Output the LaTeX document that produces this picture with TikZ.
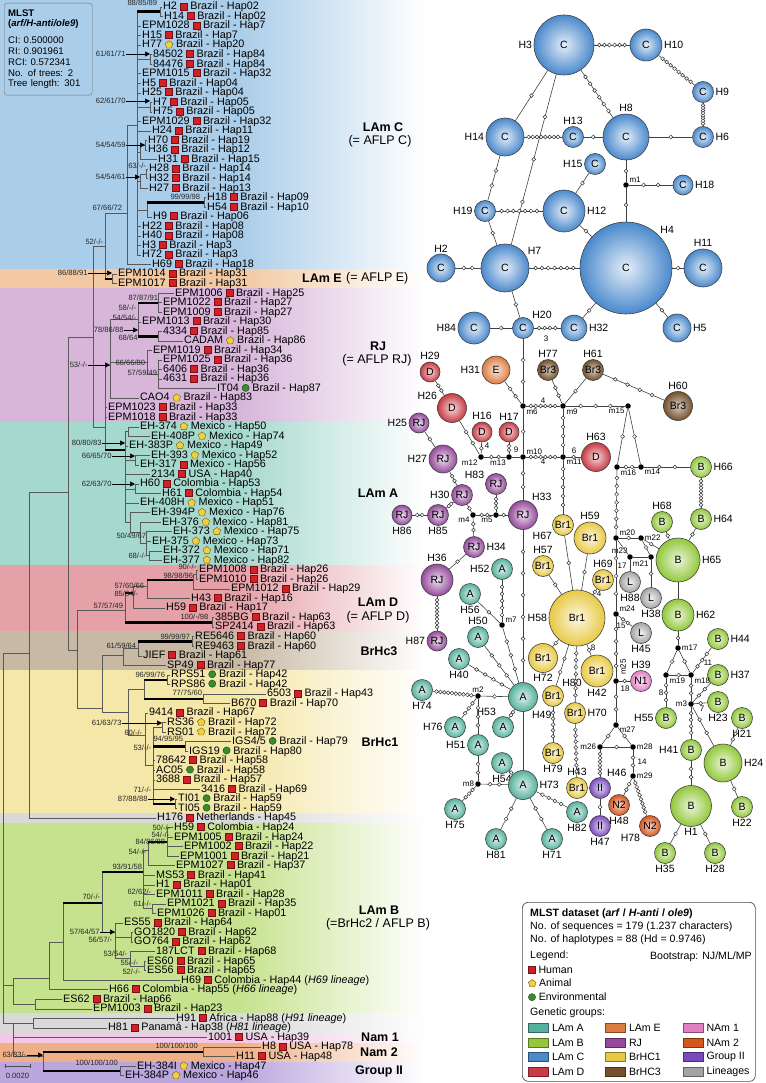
\documentclass[tikz,border=0pt]{standalone}
\usepackage{fontspec}
\setmainfont{Liberation Sans}
\usepackage{tikz}
\usetikzlibrary{positioning, arrows.meta, calc}

% band colours (tree)
\definecolor{bandC}{HTML}{AACDE9}
\definecolor{bandE}{HTML}{F2C9A2}
\definecolor{bandRJ}{HTML}{D7B6DA}
\definecolor{bandA}{HTML}{A6D9CE}
\definecolor{bandD}{HTML}{E5A1A8}
\definecolor{bandHc3}{HTML}{C8B9A4}
\definecolor{bandHc1}{HTML}{F4E7A8}
\definecolor{bandGr}{HTML}{D9D9D9}
\definecolor{bandB}{HTML}{C6E28E}
\definecolor{bandN1}{HTML}{F3C8E6}
\definecolor{bandN2}{HTML}{EFB088}
\definecolor{bandG2}{HTML}{BBA6DE}
% group colours (network)
\definecolor{colA}{HTML}{55B19C}
\definecolor{colB}{HTML}{92C83A}
\definecolor{colC}{HTML}{4A89CC}
\definecolor{colD}{HTML}{C83A44}
\definecolor{colE}{HTML}{DC7C3E}
\definecolor{colRJ}{HTML}{944A9A}
\definecolor{colBr1}{HTML}{E8C944}
\definecolor{colBr3}{HTML}{74512C}
\definecolor{colN1}{HTML}{E07FC2}
\definecolor{colN2}{HTML}{D5561C}
\definecolor{colII}{HTML}{7A4ABD}
\definecolor{colL}{HTML}{A3A3A3}
% source markers
\definecolor{humred}{HTML}{D41F26}
\definecolor{aniyel}{HTML}{F3D03A}
\definecolor{envgrn}{HTML}{3A8A2E}

\newcommand{\hum}{\tikz[baseline=0pt]\draw[fill=humred, draw=humred!55!black, line width=0.4pt] (0pt,0pt) rectangle (7pt,7pt);}
\newcommand{\ani}{\tikz[baseline=-3.24pt]\draw[fill=aniyel, draw=aniyel!45!black, line width=0.4pt] (90:4pt) -- (162:4pt) -- (234:4pt) -- (306:4pt) -- (18:4pt) -- cycle;}
\newcommand{\env}{\tikz[baseline=-3.6pt]\draw[fill=envgrn, draw=envgrn!50!black, line width=0.4pt] (0pt,0pt) circle[radius=3.6pt];}

% network link with k mutation steps
\newcommand{\mutlink}[3]{%
  \draw[netline] (#1) -- (#2) coordinate[pos=0] (ms) coordinate[pos=1] (me);
  \ifnum#3>0
    \foreach \k [evaluate=\k as \pp using \k/(#3+1)] in {1,...,#3}
      {\node[mut] at ($(ms)!\pp!(me)$) {};}
  \fi}

\begin{document}
\begin{tikzpicture}[
        x=1pt, y=-1pt,
        leaf/.style={anchor=west, inner xsep=1.5pt, inner ysep=0pt, font=\fontsize{10.8}{11}\selectfont},
        bs/.style={inner sep=0.3pt, font=\fontsize{7.6}{8}\selectfont, text=black!85},
        bsarrow/.style={-{Triangle[length=5pt, width=5pt]}, line width=0.6pt},
        br/.style={draw=black!65, line width=0.7pt},
        thickbr/.style={draw=black, line width=2.6pt},
        grp/.style={font=\bfseries\fontsize{12.5}{14}\selectfont, inner sep=0pt},
        grpn/.style={font=\fontsize{12.5}{14}\selectfont, inner sep=0pt},
        hap/.style={circle, draw=black!75, line width=0.6pt, inner sep=0pt, font=\fontsize{10.5}{12}\selectfont},
        hapA/.style={hap, inner color=colA!18!white, outer color=colA},
        hapB/.style={hap, inner color=colB!18!white, outer color=colB},
        hapC/.style={hap, inner color=colC!15!white, outer color=colC},
        hapD/.style={hap, inner color=colD!18!white, outer color=colD},
        hapE/.style={hap, inner color=colE!18!white, outer color=colE},
        hapRJ/.style={hap, inner color=colRJ!18!white, outer color=colRJ},
        hapBr1/.style={hap, inner color=colBr1!15!white, outer color=colBr1},
        hapBr3/.style={hap, inner color=colBr3!30!white, outer color=colBr3},
        hapL/.style={hap, inner color=colL!15!white, outer color=colL},
        hapN1/.style={hap, inner color=colN1!18!white, outer color=colN1},
        hapN2/.style={hap, inner color=colN2!25!white, outer color=colN2},
        hapII/.style={hap, inner color=colII!20!white, outer color=colII},
        mut/.style={circle, draw=black!80, fill=white, line width=0.5pt, inner sep=0pt, minimum size=3.8pt},
        med/.style={circle, fill=black, inner sep=0pt, minimum size=5.5pt},
        netline/.style={draw=black!75, line width=0.6pt},
        mlab/.style={font=\fontsize{8}{9}\selectfont, inner sep=0.8pt},
        every label/.style={font=\fontsize{10.5}{12}\selectfont, inner sep=1.5pt},
        legtxt/.style={anchor=west, inner sep=0pt, font=\fontsize{10.6}{12}\selectfont},
        swatch/.style={draw=#1!60!black, fill=#1, line width=0.6pt, minimum width=20pt, minimum height=9pt, inner sep=0pt}
    ]
\useasboundingbox (0,0) rectangle (765,1083);
%
    % Bands behind the tree
    \foreach \ya/\yb/\col in {0/269/bandC, 269/288/bandE, 288/422/bandRJ, 422/565/bandA, 565/631/bandD, 631/670/bandHc3, 670/813/bandHc1, 813/823/bandGr, 823/1013/bandB, 1013/1034/bandGr, 1034/1043/bandN1, 1043/1062/bandN2, 1062/1083/bandG2}
        {\fill[\col] (0,\ya) rectangle (241,\yb);
         \shade[left color=\col, right color=white] (240,\ya) rectangle (425,\yb);}
%
    % Tree statistics
    \node[draw=black!55, rounded corners=3pt, fill=bandC, anchor=north west, text width=80pt, inner xsep=4pt, inner ysep=4pt, minimum height=92pt, align=left, font=\fontsize{9.6}{10.8}\selectfont] (mlst) at (4,3)
        {\textbf{MLST}\\\textbf{(\textit{arf/H-anti/ole9})}\\[6pt]CI: 0.500000\\RI: 0.901961\\RCI: 0.572341\\No. of trees: 2\\Tree length: 301};
%
    % Leaves
    \node[leaf] (l1) at (161.5,7.0) {H2 \hum{} Brazil - Hap02};
    \node[leaf] (l2) at (162.5,16.5) {H14 \hum{} Brazil - Hap02};
    \node[leaf] (l3) at (140.5,26.1) {EPM1028 \hum{} Brazil - Hap7};
    \node[leaf] (l4) at (140.5,35.6) {H15 \hum{} Brazil - Hap7};
    \node[leaf] (l5) at (140.5,45.2) {H77 \ani{} Brazil - Hap20};
    \node[leaf] (l6) at (151.5,54.7) {84502 \hum{} Brazil - Hap84};
    \node[leaf] (l7) at (151.5,64.3) {84476 \hum{} Brazil - Hap84};
    \node[leaf] (l8) at (140.5,73.8) {EPM1015 \hum{} Brazil - Hap32};
    \node[leaf] (l9) at (140.5,83.3) {H5 \hum{} Brazil - Hap04};
    \node[leaf] (l10) at (140.5,92.9) {H25 \hum{} Brazil - Hap04};
    \node[leaf] (l11) at (151.5,102.4) {H7 \hum{} Brazil - Hap05};
    \node[leaf] (l12) at (151.5,112.0) {H75 \hum{} Brazil - Hap05};
    \node[leaf] (l13) at (140.5,121.5) {EPM1029 \hum{} Brazil - Hap32};
    \node[leaf] (l14) at (150.5,131.0) {H24 \hum{} Brazil - Hap11};
    \node[leaf] (l15) at (146.5,140.6) {H70 \hum{} Brazil - Hap19};
    \node[leaf] (l16) at (146.5,150.1) {H36 \hum{} Brazil - Hap12};
    \node[leaf] (l17) at (156.5,159.7) {H31 \hum{} Brazil - Hap15};
    \node[leaf] (l18) at (147.5,169.2) {H28 \hum{} Brazil - Hap14};
    \node[leaf] (l19) at (147.5,178.8) {H32 \hum{} Brazil - Hap14};
    \node[leaf] (l20) at (147.5,188.3) {H27 \hum{} Brazil - Hap13};
    \node[leaf] (l21) at (205.5,197.8) {H18 \hum{} Brazil - Hap09};
    \node[leaf] (l22) at (205.5,207.4) {H54 \hum{} Brazil - Hap10};
    \node[leaf] (l23) at (151.5,216.9) {H9 \hum{} Brazil - Hap06};
    \node[leaf] (l24) at (140.5,226.5) {H22 \hum{} Brazil - Hap08};
    \node[leaf] (l25) at (140.5,236.0) {H40 \hum{} Brazil - Hap08};
    \node[leaf] (l26) at (140.5,245.6) {H3 \hum{} Brazil - Hap3};
    \node[leaf] (l27) at (140.5,255.1) {H72 \hum{} Brazil - Hap3};
    \node[leaf] (l28) at (150.5,264.6) {H69 \hum{} Brazil - Hap18};
    \node[leaf] (l29) at (116.5,274.2) {EPM1014 \hum{} Brazil - Hap31};
    \node[leaf] (l30) at (116.5,283.7) {EPM1017 \hum{} Brazil - Hap31};
    \node[leaf] (l31) at (173.5,293.3) {EPM1006 \hum{} Brazil - Hap25};
    \node[leaf] (l32) at (161.5,302.8) {EPM1022 \hum{} Brazil - Hap27};
    \node[leaf] (l33) at (161.5,312.4) {EPM1009 \hum{} Brazil - Hap27};
    \node[leaf] (l34) at (140.5,321.9) {EPM1013 \hum{} Brazil - Hap30};
    \node[leaf] (l35) at (161.5,331.4) {4334 \hum{} Brazil - Hap85};
    \node[leaf] (l36) at (182.5,341.0) {CADAM \ani{} Brazil - Hap86};
    \node[leaf] (l37) at (151.5,350.5) {EPM1019 \hum{} Brazil - Hap34};
    \node[leaf] (l38) at (161.5,360.1) {EPM1025 \hum{} Brazil - Hap36};
    \node[leaf] (l39) at (161.5,369.6) {6406 \hum{} Brazil - Hap36};
    \node[leaf] (l40) at (161.5,379.1) {4631 \hum{} Brazil - Hap36};
    \node[leaf] (l41) at (215.5,388.7) {IT04 \env{} Brazil - Hap87};
    \node[leaf] (l42) at (138.5,398.2) {CAO4 \ani{} Brazil - Hap83};
    \node[leaf] (l43) at (106.5,407.8) {EPM1023 \hum{} Brazil - Hap33};
    \node[leaf] (l44) at (106.5,417.3) {EPM1018 \hum{} Brazil - Hap33};
    \node[leaf] (l45) at (138.5,426.9) {EH-374 \ani{} Mexico - Hap50};
    \node[leaf] (l46) at (149.5,436.4) {EH-408P \ani{} Mexico - Hap74};
    \node[leaf] (l47) at (127.5,445.9) {EH-383P \ani{} Mexico - Hap49};
    \node[leaf] (l48) at (149.5,455.5) {EH-393 \ani{} Mexico - Hap52};
    \node[leaf] (l49) at (138.5,465.0) {EH-317 \hum{} Mexico - Hap56};
    \node[leaf] (l50) at (149.5,474.6) {2134 \hum{} USA - Hap40};
    \node[leaf] (l51) at (138.5,484.1) {H60 \hum{} Colombia - Hap53};
    \node[leaf] (l52) at (160.5,493.7) {H61 \hum{} Colombia - Hap54};
    \node[leaf] (l53) at (138.5,503.2) {EH-408H \ani{} Mexico - Hap51};
    \node[leaf] (l54) at (149.5,512.7) {EH-394P \ani{} Mexico - Hap76};
    \node[leaf] (l55) at (160.5,522.3) {EH-376 \ani{} Mexico - Hap81};
    \node[leaf] (l56) at (171.5,531.8) {EH-373 \ani{} Mexico - Hap75};
    \node[leaf] (l57) at (150.5,541.4) {EH-375 \ani{} Mexico - Hap73};
    \node[leaf] (l58) at (161.5,550.9) {EH-372 \ani{} Mexico - Hap71};
    \node[leaf] (l59) at (161.5,560.4) {EH-377 \ani{} Mexico - Hap82};
    \node[leaf] (l60) at (197.5,570.0) {EPM1008 \hum{} Brazil - Hap26};
    \node[leaf] (l61) at (197.5,579.5) {EPM1010 \hum{} Brazil - Hap26};
    \node[leaf] (l62) at (229.5,589.1) {EPM1012 \hum{} Brazil - Hap29};
    \node[leaf] (l63) at (189.5,598.6) {H43 \hum{} Brazil - Hap16};
    \node[leaf] (l64) at (164.5,608.2) {H59 \hum{} Brazil - Hap17};
    \node[leaf] (l65) at (213.5,617.7) {385BG \hum{} Brazil - Hap63};
    \node[leaf] (l66) at (213.5,627.2) {SP2414 \hum{} Brazil - Hap63};
    \node[leaf] (l67) at (193.5,636.8) {RE5646 \hum{} Brazil - Hap60};
    \node[leaf] (l68) at (193.5,646.3) {RE9463 \hum{} Brazil - Hap60};
    \node[leaf] (l69) at (141.5,655.9) {JIEF \hum{} Brazil - Hap61};
    \node[leaf] (l70) at (165.5,665.4) {SP49 \hum{} Brazil - Hap77};
    \node[leaf] (l71) at (169.5,675.0) {RPS51 \env{} Brazil - Hap42};
    \node[leaf] (l72) at (169.5,684.5) {RPS86 \env{} Brazil - Hap42};
    \node[leaf] (l73) at (265.5,694.0) {6503 \hum{} Brazil - Hap43};
    \node[leaf] (l74) at (229.5,703.6) {B670 \hum{} Brazil - Hap70};
    \node[leaf] (l75) at (147.5,713.1) {9414 \hum{} Brazil - Hap67};
    \node[leaf] (l76) at (165.5,722.7) {RS36 \ani{} Brazil - Hap72};
    \node[leaf] (l77) at (165.5,732.2) {RS01 \ani{} Brazil - Hap72};
    \node[leaf] (l78) at (230.5,741.7) {IGS4/5 \env{} Brazil - Hap79};
    \node[leaf] (l79) at (187.5,751.3) {IGS19 \env{} Brazil - Hap80};
    \node[leaf] (l80) at (154.5,760.8) {78642 \hum{} Brazil - Hap58};
    \node[leaf] (l81) at (154.5,770.4) {AC05 \env{} Brazil - Hap58};
    \node[leaf] (l82) at (154.5,779.9) {3688 \hum{} Brazil - Hap57};
    \node[leaf] (l83) at (199.5,789.5) {3416 \hum{} Brazil - Hap69};
    \node[leaf] (l84) at (176.5,799.0) {TI01 \env{} Brazil - Hap59};
    \node[leaf] (l85) at (176.5,808.5) {TI05 \env{} Brazil - Hap59};
    \node[leaf] (l86) at (155.5,818.1) {H176 \hum{} Netherlands - Hap45};
    \node[leaf] (l87) at (172.5,827.6) {H59 \hum{} Colombia - Hap24};
    \node[leaf] (l88) at (172.5,837.2) {EPM1005 \hum{} Brazil - Hap24};
    \node[leaf] (l89) at (182.5,846.7) {EPM1002 \hum{} Brazil - Hap22};
    \node[leaf] (l90) at (178.5,856.3) {EPM1001 \hum{} Brazil - Hap21};
    \node[leaf] (l91) at (174.5,865.8) {EPM1027 \hum{} Brazil - Hap37};
    \node[leaf] (l92) at (154.5,875.3) {MS53 \hum{} Brazil - Hap41};
    \node[leaf] (l93) at (154.5,884.9) {H1 \hum{} Brazil - Hap01};
    \node[leaf] (l94) at (154.5,894.4) {EPM1011 \hum{} Brazil - Hap28};
    \node[leaf] (l95) at (165.5,904.0) {EPM1021 \hum{} Brazil - Hap35};
    \node[leaf] (l96) at (155.5,913.5) {EPM1026 \hum{} Brazil - Hap01};
    \node[leaf] (l97) at (122.5,923.0) {ES55 \hum{} Brazil - Hap64};
    \node[leaf] (l98) at (132.5,932.6) {GO1820 \hum{} Brazil - Hap62};
    \node[leaf] (l99) at (132.5,942.1) {GO764 \hum{} Brazil - Hap62};
    \node[leaf] (l100) at (154.5,951.7) {187LCT \hum{} Brazil - Hap68};
    \node[leaf] (l101) at (145.5,961.2) {ES60 \hum{} Brazil - Hap65};
    \node[leaf] (l102) at (145.5,970.8) {ES56 \hum{} Brazil - Hap65};
    \node[leaf] (l103) at (179.5,980.3) {H69 \hum{} Colombia - Hap44 (\textit{H69 lineage})};
    \node[leaf] (l104) at (107.5,989.8) {H66 \hum{} Colombia - Hap55 (\textit{H66 lineage})};
    \node[leaf] (l105) at (61.5,999.4) {ES62 \hum{} Brazil - Hap66};
    \node[leaf] (l106) at (91.5,1008.9) {EPM1003 \hum{} Brazil - Hap23};
    \node[leaf] (l107) at (174.5,1018.5) {H91 \hum{} Africa - Hap88 (\textit{H91 lineage})};
    \node[leaf] (l108) at (106.5,1028.0) {H81 \hum{} Panamá - Hap38 (\textit{H81 lineage})};
    \node[leaf] (l109) at (206.5,1037.5) {1001 \hum{} USA - Hap39};
    \node[leaf] (l110) at (260.5,1047.1) {H8 \hum{} USA - Hap78};
    \node[leaf] (l111) at (234.5,1056.6) {H11 \hum{} USA - Hap48};
    \node[leaf] (l112) at (135.5,1066.2) {EH-384I \ani{} Mexico - Hap47};
    \node[leaf] (l113) at (123.5,1075.7) {EH-384P \ani{} Mexico - Hap46};
%
    % Internal nodes of the tree
    \coordinate (cH2) at (160,11.8);
    \coordinate (c84) at (150,59.5);
    \coordinate (c7) at (150,107.2);
    \coordinate (c70) at (145,145.4);
    \coordinate (c31) at (140,152);
    \coordinate (c28) at (146,174);
    \coordinate (c27) at (140,181);
    \coordinate (c18) at (204,202.6);
    \coordinate (c9) at (147,210);
    \coordinate (lcA) at (137,125);
    \coordinate (lc0) at (127,213);
    \coordinate (lE) at (112,279);
    \coordinate (CE) at (105,246);
    \coordinate (rjA) at (158,302.8);
    \coordinate (rjB) at (158,336.2);
    \coordinate (rj1) at (138,319);
    \coordinate (rj3) at (158,374);
    \coordinate (rj2) at (147,362);
    \coordinate (rjR) at (110,365);
    \coordinate (RA) at (105,427);
    \coordinate (U) at (93,337);
    \coordinate (la1) at (128,431.6);
    \coordinate (la2) at (135,460.2);
    \coordinate (la3) at (135,488.9);
    \coordinate (la8) at (149,555.6);
    \coordinate (la7) at (146,543);
    \coordinate (la6) at (140,532);
    \coordinate (la5) at (130,522);
    \coordinate (lA0) at (125,450);
    \coordinate (lD3a) at (196,574.8);
    \coordinate (lD3) at (193,580);
    \coordinate (lD2) at (147,586);
    \coordinate (lD1) at (133,593);
    \coordinate (lD4) at (212,622.5);
    \coordinate (lD0) at (125,610);
    \coordinate (h3c) at (192,641.6);
    \coordinate (h3b) at (138,648);
    \coordinate (h3a) at (123,655);
    \coordinate (c1r) at (167,679.8);
    \coordinate (c1bb) at (203,698.8);
    \coordinate (c1b) at (144,689);
    \coordinate (c1rs) at (162,727.5);
    \coordinate (c1i) at (185,746.5);
    \coordinate (c1t) at (175,803.8);
    \coordinate (c1d) at (153,765);
    \coordinate (c1c) at (145,735);
    \coordinate (c1a) at (128,712);
    \coordinate (hc13) at (102,708);
    \coordinate (L77) at (77,650);
    \coordinate (A68) at (68,492);
    \coordinate (N29) at (29,653);
    \coordinate (bA) at (167,842);
    \coordinate (bB) at (148,850);
    \coordinate (bD) at (152,908.7);
    \coordinate (bC) at (143,872);
    \coordinate (bG) at (131,937.4);
    \coordinate (bJ) at (144,966);
    \coordinate (bH) at (130,958);
    \coordinate (bF) at (115,932);
    \coordinate (bE) at (102,903);
    \coordinate (bK) at (63,942);
    \coordinate (bL) at (49,978);
    \coordinate (bM) at (35,1004);
    \coordinate (bR) at (13,985);
    \coordinate (gA) at (33,1023);
    \coordinate (nam2) at (203,1051.9);
    \coordinate (grp2) at (120,1071);
    \coordinate (nbg) at (43,1056);
    \coordinate (BOT) at (13,1023);
    \coordinate (R0) at (3,820);
%
    % Branches
    \draw[br] (R0) |- (N29) (R0) |- (bR) (R0) |- (BOT);
    \draw[br] (N29) |- (A68) (N29) |- (l86);
    \draw[br] (A68) |- (U) (A68) |- (L77);
    \draw[br] (U) |- (CE) (U) |- (RA);
    \draw[br] (CE) |- (lc0) (CE) |- (lE);
    \draw[thickbr] (CE |- lE) -- (lE);
    \draw[br] (lc0) |- (lcA) (lc0) |- (l28);
    \draw[br] (lcA) |- (cH2) (lcA) |- (l3) (lcA) |- (l4) (lcA) |- (l5) (lcA) |- (c84) (lcA) |- (l8) (lcA) |- (l9) (lcA) |- (l10) (lcA) |- (c7) (lcA) |- (l13) (lcA) |- (l14) (lcA) |- (c31) (lcA) |- (c27) (lcA) |- (c9) (lcA) |- (l24) (lcA) |- (l25) (lcA) |- (l26) (lcA) |- (l27);
    \draw[thickbr] (lcA |- cH2) -- (cH2);
    \draw[br] (cH2) |- (l1) (cH2) |- (l2);
    \draw[br] (c84) |- (l6) (c84) |- (l7);
    \draw[br] (c7) |- (l11) (c7) |- (l12);
    \draw[br] (c31) |- (c70) (c31) |- (l17);
    \draw[br] (c70) |- (l15) (c70) |- (l16);
    \draw[br] (c27) |- (c28) (c27) |- (l20);
    \draw[br] (c28) |- (l18) (c28) |- (l19);
    \draw[br] (c9) |- (c18) (c9) |- (l23);
    \draw[thickbr] (c9 |- c18) -- (c18);
    \draw[br] (c18) |- (l21) (c18) |- (l22);
    \draw[br] (lE) |- (l29) (lE) |- (l30);
    \draw[br] (RA) |- (rjR) (RA) |- (l43) (RA) |- (l44) (RA) |- (lA0);
    \draw[thickbr] (RA |- lA0) -- (lA0);
    \draw[br] (rjR) |- (rj1) (rjR) |- (rj2) (rjR) |- (l42);
    \draw[br] (rj1) |- (rjA) (rj1) |- (l34) (rj1) |- (rjB);
    \draw[thickbr] (rj1 |- rjA) -- (rjA);
    \draw[thickbr] (rj1 |- rjB) -- (rjB);
    \draw[br] (rjA) |- (l31) (rjA) |- (l32) (rjA) |- (l33);
    \draw[br] (rjB) |- (l35) (rjB) |- (l36);
    \draw[br] (rj2) |- (l37) (rj2) |- (rj3);
    \draw[br] (rj3) |- (l38) (rj3) |- (l39) (rj3) |- (l40) (rj3) |- (l41);
    \draw[br] (lA0) |- (la1) (lA0) |- (l47) (lA0) |- (la2) (lA0) |- (l50) (lA0) |- (la3) (lA0) |- (l53) (lA0) |- (la5);
    \draw[br] (la1) |- (l45) (la1) |- (l46);
    \draw[br] (la2) |- (l48) (la2) |- (l49);
    \draw[br] (la3) |- (l51) (la3) |- (l52);
    \draw[br] (la5) |- (l54) (la5) |- (la6);
    \draw[br] (la6) |- (l55) (la6) |- (la7);
    \draw[br] (la7) |- (l56) (la7) |- (l57) (la7) |- (la8);
    \draw[br] (la8) |- (l58) (la8) |- (l59);
    \draw[br] (L77) |- (lD0) (L77) |- (hc13);
    \draw[br] (lD0) |- (lD1) (lD0) |- (lD4);
    \draw[thickbr] (lD0 |- lD1) -- (lD1);
    \draw[thickbr] (lD0 |- lD4) -- (lD4);
    \draw[br] (lD1) |- (lD2) (lD1) |- (l64);
    \draw[br] (lD2) |- (lD3) (lD2) |- (l63);
    \draw[thickbr] (lD2 |- lD3) -- (lD3);
    \draw[br] (lD3) |- (lD3a) (lD3) |- (l62);
    \draw[br] (lD3a) |- (l60) (lD3a) |- (l61);
    \draw[br] (lD4) |- (l65) (lD4) |- (l66);
    \draw[br] (hc13) |- (h3a) (hc13) |- (c1a);
    \draw[br] (h3a) |- (h3b) (h3a) |- (l70);
    \draw[br] (h3b) |- (h3c) (h3b) |- (l69);
    \draw[thickbr] (h3b |- h3c) -- (h3c);
    \draw[br] (h3c) |- (l67) (h3c) |- (l68);
    \draw[br] (c1a) |- (c1b) (c1a) |- (c1c);
    \draw[br] (c1b) |- (c1r) (c1b) |- (c1bb);
    \draw[thickbr] (c1b |- c1r) -- (c1r);
    \draw[thickbr] (c1b |- c1bb) -- (c1bb);
    \draw[br] (c1r) |- (l71) (c1r) |- (l72);
    \draw[br] (c1bb) |- (l73) (c1bb) |- (l74);
    \draw[br] (c1c) |- (l75) (c1c) |- (c1d);
    \draw[br] (c1d) |- (c1rs) (c1d) |- (c1i) (c1d) |- (l80) (c1d) |- (l81) (c1d) |- (l82) (c1d) |- (l83) (c1d) |- (c1t);
    \draw[thickbr] (c1d |- c1i) -- (c1i);
    \draw[thickbr] (c1d |- c1t) -- (c1t);
    \draw[br] (c1rs) |- (l76) (c1rs) |- (l77);
    \draw[br] (c1i) |- (l78) (c1i) |- (l79);
    \draw[br] (c1t) |- (l84) (c1t) |- (l85);
    \draw[br] (bR) |- (bL) (bR) |- (bM);
    \draw[br] (bL) |- (bK) (bL) |- (l104);
    \draw[br] (bK) |- (bE) (bK) |- (l103);
    \draw[thickbr] (bK |- bE) -- (bE);
    \draw[br] (bE) |- (bC) (bE) |- (bF);
    \draw[thickbr] (bE |- bC) -- (bC);
    \draw[br] (bC) |- (bB) (bC) |- (l92) (bC) |- (l93) (bC) |- (l94) (bC) |- (bD);
    \draw[br] (bB) |- (bA) (bB) |- (l91);
    \draw[thickbr] (bB |- bA) -- (bA);
    \draw[br] (bA) |- (l87) (bA) |- (l88) (bA) |- (l89) (bA) |- (l90);
    \draw[br] (bD) |- (l95) (bD) |- (l96);
    \draw[br] (bF) |- (l97) (bF) |- (bG) (bF) |- (bH);
    \draw[br] (bG) |- (l98) (bG) |- (l99);
    \draw[br] (bH) |- (l100) (bH) |- (bJ);
    \draw[br] (bJ) |- (l101) (bJ) |- (l102);
    \draw[br] (bM) |- (l105) (bM) |- (l106);
    \draw[br] (BOT) |- (gA) (BOT) |- (l109) (BOT) |- (nbg);
    \draw[br] (gA) |- (l107) (gA) |- (l108);
    \draw[br] (nbg) |- (nam2) (nbg) |- (grp2);
    \draw[thickbr] (nbg |- nam2) -- (nam2);
    \draw[thickbr] (nbg |- grp2) -- (grp2);
    \draw[br] (nam2) |- (l110) (nam2) |- (l111);
    \draw[br] (grp2) |- (l112) (grp2) |- (l113);
%
    % Bootstrap values
    \node[bs, anchor=west] (b1) at (127,3) {88/85/89};
    \node[bs, anchor=east] (b2) at (126,54) {61/61/71};
    \node[bs, anchor=east] (b3) at (126,101) {62/61/70};
    \node[bs, anchor=east] (b4) at (126,145) {54/54/59};
    \node[bs, anchor=east] (b5) at (146.5,166) {63/-/-};
    \node[bs, anchor=east] (b6) at (126,177) {54/54/61};
    \node[bs, anchor=west] (b7) at (170,197) {99/99/98};
    \node[bs, anchor=west] (b8) at (92,208) {67/66/72};
    \node[bs, anchor=west] (b9) at (85,242) {52/-/-};
    \node[bs, anchor=east] (b10) at (88,273) {86/88/91};
    \node[bs, anchor=west] (b11) at (128,298) {87/87/91};
    \node[bs, anchor=west] (b12) at (118,308) {58/-/-};
    \node[bs, anchor=west] (b13) at (112,318) {54/54/-};
    \node[bs, anchor=east] (b14) at (124,330) {78/86/88};
    \node[bs, anchor=west] (b15) at (118,338) {68/64};
    \node[bs, anchor=west] (b16) at (115,363) {66/66/80};
    \node[bs, anchor=east] (b17) at (88,365) {53/-/-};
    \node[bs, anchor=west] (b18) at (127,373) {57/59/49};
    \node[bs, anchor=east] (b19) at (102,443) {80/80/83};
    \node[bs, anchor=east] (b20) at (112,456) {66/65/70};
    \node[bs, anchor=east] (b21) at (112,484) {62/63/70};
    \node[bs, anchor=west] (b22) at (116,536) {50/49/67};
    \node[bs, anchor=west] (b23) at (128,556) {68/-/-};
    \node[bs, anchor=west] (b24) at (178,567) {90/-/-};
    \node[bs, anchor=west] (b25) at (163,576) {98/98/96};
    \node[bs, anchor=west] (b26) at (114,586) {57/60/66};
    \node[bs, anchor=west] (b27) at (114,594) {85/84/-};
    \node[bs, anchor=west] (b28) at (93,606) {57/57/49};
    \node[bs, anchor=west] (b29) at (180,617) {100/-/98};
    \node[bs, anchor=west] (b30) at (160,637) {99/99/97};
    \node[bs, anchor=west] (b31) at (106,646) {61/59/64};
    \node[bs, anchor=west] (b32) at (135,675) {96/99/76};
    \node[bs, anchor=west] (b33) at (172,693) {77/75/60};
    \node[bs, anchor=east] (b34) at (122,723) {61/63/73};
    \node[bs, anchor=west] (b35) at (124,733) {60/-/-};
    \node[bs, anchor=west] (b36) at (153,739) {94/95/95};
    \node[bs, anchor=west] (b37) at (133,748) {53/-/-};
    \node[bs, anchor=west] (b38) at (133,790) {71/-/-};
    \node[bs, anchor=east] (b39) at (148,799) {87/88/88};
    \node[bs, anchor=west] (b40) at (152,828) {50/-/-};
    \node[bs, anchor=west] (b41) at (151,835) {54/-/-};
    \node[bs, anchor=west] (b42) at (135,842) {84/86/88};
    \node[bs, anchor=west] (b43) at (128,852) {54/-/-};
    \node[bs, anchor=west] (b44) at (112,867) {93/91/58};
    \node[bs, anchor=west] (b45) at (127,892) {62/62/-};
    \node[bs, anchor=west] (b46) at (82,897) {70/-/-};
    \node[bs, anchor=west] (b47) at (133,904) {61/-/-};
    \node[bs, anchor=east] (b48) at (100,932) {57/64/57};
    \node[bs, anchor=west] (b49) at (88,940) {56/57/-};
    \node[bs, anchor=west] (b50) at (103,954) {53/54/-};
    \node[bs, anchor=west] (b51) at (120,963) {55/-/-};
    \node[bs, anchor=west] (b52) at (122,972) {52/-/-};
    \node[bs, anchor=west] (b53) at (155,1046) {100/100/100};
    \node[bs, anchor=west] (b54) at (2,1055) {63/83/-};
    \node[bs, anchor=west] (b55) at (75,1063) {100/100/100};
    \draw[bsarrow] (b2.east) -- (c84 |- b2.east);
    \draw[bsarrow] (b3.east) -- (c7 |- b3.east);
    \draw[bsarrow] (b4.east) -- (c70 |- b4.east);
    \draw[bsarrow] (b6.east) -- (c27 |- b6.east);
    \draw[bsarrow] (b10.east) -- (lE |- b10.east);
    \draw[bsarrow] (b14.east) -- (rj1 |- b14.east);
    \draw[bsarrow] (b17.east) -- (rjR |- b17.east);
    \draw[bsarrow] (b19.east) -- (lA0 |- b19.east);
    \draw[bsarrow] (b20.east) -- (la2 |- b20.east);
    \draw[bsarrow] (b21.east) -- (la3 |- b21.east);
    \draw[bsarrow] (b34.east) -- (c1rs |- b34.east);
    \draw[bsarrow] (b39.east) -- (c1t |- b39.east);
    \draw[bsarrow] (b48.east) -- (bF |- b48.east);
    \draw[bsarrow] (b54.east) -- (nbg |- b54.east);
%
    % Scale bar
    \coordinate (sb1) at (5,1066);
    \coordinate (sb2) at (30,1066);
    \draw[black!70, line width=0.6pt] (sb1) -- (sb2);
    \draw[black!70, line width=0.6pt] ([yshift=2pt]sb1) -- ([yshift=-2pt]sb1) ([yshift=2pt]sb2) -- ([yshift=-2pt]sb2);
    \node[bs] (sbl) at (17.5,1076) {0.0020};
%
    % Group names
    \node[grp] (gC) at (383,127) {LAm C};
    \node[grpn] (gC2) at (380,141) {(= AFLP C)};
    \node[grp, anchor=west] (gE) at (302,278) {LAm E};
    \node[grpn, right=4pt of gE] (gE2) {(= AFLP E)};
    \node[grp] (gRJ) at (378,346) {RJ};
    \node[grpn] (gRJ2) at (377,360) {(= AFLP RJ)};
    \node[grp] (gA2) at (378,493) {LAm A};
    \node[grp] (gD) at (378,602) {LAm D};
    \node[grpn] (gD2) at (378,617) {(= AFLP D)};
    \node[grp] (gH3) at (379,651) {BrHc3};
    \node[grp] (gH1) at (380,742) {BrHc1};
    \node[grp] (gB) at (379,910) {LAm B};
    \node[grpn] (gB2) at (378,924) {(=BrHc2 / AFLP B)};
    \node[grp] (gN1) at (380,1037) {Nam 1};
    \node[grp] (gN2) at (379,1052) {Nam 2};
    \node[grp] (gG2) at (379,1071) {Group II};
%
    % Haplotype network: nodes
    \node[hapC, minimum size=60pt, label=left:H3] (H3) at (564,45) {C};
    \node[hapC, minimum size=32pt, label=right:H10] (H10) at (646,45) {C};
    \node[hapC, minimum size=21pt, label=right:H9] (H9) at (703,92) {C};
    \node[hapC, minimum size=21pt, label=right:H6] (H6) at (703,137) {C};
    \node[hapC, minimum size=46pt, label=above:H8] (H8) at (626,137) {C};
    \node[hapC, minimum size=21pt, label=above:H13] (H13) at (573,137) {C};
    \node[hapC, minimum size=38pt, label=left:H14] (H14) at (505,137) {C};
    \node[hapC, minimum size=21pt, label=left:H15] (H15) at (595,164) {C};
    \node[hapC, minimum size=20pt, label=right:H18] (H18) at (683,185) {C};
    \node[hapC, minimum size=21pt, label=left:H19] (H19) at (485,211) {C};
    \node[hapC, minimum size=42pt, label=right:H12] (H12) at (564,211) {C};
    \node[hapC, minimum size=92pt, label=45:H4] (H4) at (626,268) {C};
    \node[hapC, minimum size=48pt, label=30:H7] (H7) at (505,268) {C};
    \node[hapC, minimum size=28pt, label=above:H2] (H2) at (441,268) {C};
    \node[hapC, minimum size=38pt, label=above:H11] (H11) at (703,268) {C};
    \node[hapC, minimum size=32pt, label=left:H84] (H84) at (474,328) {C};
    \node[hapC, minimum size=21pt, label=45:H20] (H20) at (523,328) {C};
    \node[hapC, minimum size=26pt, label=right:H32] (H32) at (574,328) {C};
    \node[hapC, minimum size=28pt, label=right:H5] (H5) at (677,328) {C};
    \node[hapE, minimum size=28pt, label=left:H31] (H31) at (496,370) {E};
    \node[hapD, minimum size=20pt, label=above:H29] (H29) at (430,372) {D};
    \node[hapD, minimum size=29pt, label=155:H26] (H26) at (452,408) {D};
    \node[hapD, minimum size=20pt, label=above:H16] (H16) at (482,432) {D};
    \node[hapD, minimum size=20pt, label=above:H17] (H17) at (509,432) {D};
    \node[hapD, minimum size=29pt, label=above:H63] (H63) at (596,457) {D};
    \node[hapBr3, minimum size=21pt, label=above:H77] (H77) at (548,370) {Br3};
    \node[hapBr3, minimum size=21pt, label=above:H61] (H61) at (593,370) {Br3};
    \node[hapBr3, minimum size=29pt, label=above:H60] (H60) at (678,406) {Br3};
    \node[hapRJ, minimum size=20pt, label=left:H25] (H25) at (419,423) {RJ};
    \node[hapRJ, minimum size=28pt, label=left:H27] (H27) at (443,459) {RJ};
    \node[hapRJ, minimum size=21pt, label=160:H83] (H83) at (496,484) {RJ};
    \node[hapRJ, minimum size=21pt, label=left:H30] (H30) at (462,495) {RJ};
    \node[hapRJ, minimum size=21pt, label=below:H85] (H85) at (438,515) {RJ};
    \node[hapRJ, minimum size=20pt, label=below:H86] (H86) at (402,515) {RJ};
    \node[hapRJ, minimum size=29pt, label=60:H33] (H33) at (523,515) {RJ};
    \node[hapRJ, minimum size=21pt, label=right:H34] (H34) at (474,547) {RJ};
    \node[hapRJ, minimum size=32pt, label=above:H36] (H36) at (437,580) {RJ};
    \node[hapRJ, minimum size=20pt, label=left:H87] (H87) at (437,641) {RJ};
    \node[hapBr1, minimum size=21pt, label=210:H67] (H67) at (563,525) {Br1};
    \node[hapBr1, minimum size=32pt, label=above:H59] (H59) at (590,538) {Br1};
    \node[hapBr1, minimum size=21pt, label=above:H57] (H57) at (543,566) {Br1};
    \node[hapBr1, minimum size=21pt, label=above:H69] (H69) at (603,580) {Br1};
    \node[hapBr1, minimum size=56pt, label=left:H58] (H58) at (577,618) {Br1};
    \node[hapBr1, minimum size=29pt, label=below:H72] (H72) at (543,658) {Br1};
    \node[hapBr1, minimum size=21pt, label=45:H80] (H80) at (553,696) {Br1};
    \node[hapBr1, minimum size=32pt, label=below:H42] (H42) at (597,671) {Br1};
    \node[hapBr1, minimum size=21pt, label=right:H70] (H70) at (575,713) {Br1};
    \node[hapBr1, minimum size=21pt, label=below:H79] (H79) at (553,753) {Br1};
    \node[hapBr1, minimum size=21pt, label=above:H43] (H43) at (577,788) {Br1};
    \node[hapL, minimum size=21pt, label=below:H88] (H88) at (630,582) {L};
    \node[hapL, minimum size=21pt, label=below:H38] (H38) at (651,598) {L};
    \node[hapL, minimum size=21pt, label=below:H45] (H45) at (641,633) {L};
    \node[hapN1, minimum size=21pt, label=above:H39] (H39) at (641,681) {N1};
    \node[hapB, minimum size=21pt, label=right:H66] (H66) at (701,467) {B};
    \node[hapB, minimum size=21pt, label=right:H64] (H64) at (701,519) {B};
    \node[hapB, minimum size=21pt, label=above:H68] (H68) at (662,522) {B};
    \node[hapB, minimum size=44pt, label=right:H65] (H65) at (678,560) {B};
    \node[hapB, minimum size=32pt, label=right:H62] (H62) at (678,615) {B};
    \node[hapB, minimum size=21pt, label=right:H44] (H44) at (718,639) {B};
    \node[hapB, minimum size=21pt, label=right:H37] (H37) at (718,675) {B};
    \node[hapB, minimum size=21pt, label=left:H55] (H55) at (666,718) {B};
    \node[hapB, minimum size=21pt, label=below:H23] (H23) at (718,702) {B};
    \node[hapB, minimum size=21pt, label=below:H21] (H21) at (742,718) {B};
    \node[hapB, minimum size=21pt, label=left:H41] (H41) at (691,750) {B};
    \node[hapB, minimum size=38pt, label=right:H24] (H24) at (723,763) {B};
    \node[hapB, minimum size=41pt, label=below:H1] (H1) at (691,806) {B};
    \node[hapB, minimum size=21pt, label=below:H22] (H22) at (742,807) {B};
    \node[hapB, minimum size=21pt, label=below:H35] (H35) at (665,853) {B};
    \node[hapB, minimum size=21pt, label=below:H28] (H28) at (715,853) {B};
    \node[hapA, minimum size=21pt, label=left:H52] (H52) at (502,569) {A};
    \node[hapA, minimum size=21pt, label=below:H56] (H56) at (470,594) {A};
    \node[hapA, minimum size=21pt, label=above:H50] (H50) at (478,637) {A};
    \node[hapA, minimum size=21pt, label=below:H40] (H40) at (459,659) {A};
    \node[hapA, minimum size=21pt, label=below:H74] (H74) at (422,690) {A};
    \node[hapA, minimum size=29pt, label=-60:H49] (H49) at (523,697) {A};
    \node[hapA, minimum size=21pt, label=left:H76] (H76) at (455,727) {A};
    \node[hapA, minimum size=21pt, label=120:H53] (H53) at (503,727) {A};
    \node[hapA, minimum size=21pt, label=left:H51] (H51) at (478,745) {A};
    \node[hapA, minimum size=21pt, label=below:H54] (H54) at (502,763) {A};
    \node[hapA, minimum size=29pt, label=right:H73] (H73) at (523,785) {A};
    \node[hapA, minimum size=21pt, label=below:H75] (H75) at (455,809) {A};
    \node[hapA, minimum size=21pt, label=below:H81] (H81) at (496,839) {A};
    \node[hapA, minimum size=21pt, label=below:H71] (H71) at (552,839) {A};
    \node[hapA, minimum size=21pt, label=below:H82] (H82) at (577,812) {A};
    \node[hapII, minimum size=21pt, label=60:H46] (H46) at (600,788) {II};
    \node[hapII, minimum size=21pt, label=below:H47] (H47) at (600,826) {II};
    \node[hapN2, minimum size=21pt, label=below:H48] (H48) at (619,805) {N2};
    \node[hapN2, minimum size=21pt, label=220:H78] (H78) at (650,826) {N2};
%
    % Median vectors
    \node[med, label={[mlab]30:m1}] (m1) at (626,185) {};
    \node[med, label={[mlab]-30:m6}] (m6) at (523,406) {};
    \node[med, label={[mlab]-30:m9}] (m9) at (563,406) {};
    \node[med, label={[mlab]210:m15}] (m15) at (628,406) {};
    \node[med, label={[mlab]210:m12}] (m12) at (481,457) {};
    \node[med, label={[mlab]220:m13}] (m13) at (509,457) {};
    \node[med, label={[mlab]30:m10}] (m10) at (523,457) {};
    \node[med, label={[mlab]-30:m11}] (m11) at (563,457) {};
    \node[med, label={[mlab]-30:m16}] (m16) at (617,467) {};
    \node[med, label={[mlab]-30:m14}] (m14) at (641,467) {};
    \node[med, label={[mlab]210:m4}] (m4) at (473,515) {};
    \node[med, label={[mlab]210:m5}] (m5) at (496,515) {};
    \node[med, label={[mlab]30:m20}] (m20) at (616,538) {};
    \node[med, label={[mlab]right:m22}] (m22) at (641,538) {};
    \node[med, label={[mlab]120:m23}] (m23) at (630,557) {};
    \node[med, label={[mlab]240:m21}] (m21) at (651,557) {};
    \node[med, label={[mlab]30:m7}] (m7) at (502,625) {};
    \node[med, label={[mlab]30:m24}] (m24) at (616,614) {};
    \node[med, label={[mlab]right:m17}] (m17) at (678,648) {};
    \node[med] (m25) at (616,681) {};
    \node[med, label={[mlab]-30:m19}] (m19) at (666,675) {};
    \node[med, label={[mlab]-30:m18}] (m18) at (691,675) {};
    \node[med, label={[mlab]above:m2}] (m2) at (478,696) {};
    \node[med, label={[mlab]left:m3}] (m3) at (691,704) {};
    \node[med, label={[mlab]-20:m27}] (m27) at (616,725) {};
    \node[med, label={[mlab]left:m26}] (m26) at (600,747) {};
    \node[med, label={[mlab]right:m28}] (m28) at (633,747) {};
    \node[med, label={[mlab]right:m29}] (m29) at (633,776) {};
    \node[med, label={[mlab]left:m8}] (m8) at (478,784) {};
    \node[mlab, rotate=90] (tm25) at (623,667) {m25};
%
    % Haplotype network: links
    \mutlink{H3}{H10}{6}
    \mutlink{H10}{H9}{8}
    \mutlink{H9}{H6}{8}
    \mutlink{H6}{H8}{1}
    \mutlink{H3}{H8}{6}
    \mutlink{H3}{H14}{1}
    \mutlink{H3}{H7}{3}
    \mutlink{H14}{H13}{8}
    \mutlink{H13}{H8}{1}
    \mutlink{H8}{m1}{1}
    \mutlink{m1}{H18}{2}
    \mutlink{m1}{H4}{1}
    \mutlink{H15}{H12}{1}
    \mutlink{H14}{H19}{2}
    \mutlink{H19}{H12}{7}
    \mutlink{H19}{H7}{1}
    \mutlink{H12}{H4}{1}
    \mutlink{H2}{H7}{2}
    \mutlink{H7}{H4}{7}
    \mutlink{H4}{H11}{1}
    \mutlink{H4}{H32}{1}
    \mutlink{H4}{H5}{1}
    \mutlink{H7}{H20}{1}
    \mutlink{H84}{H20}{1}
    \mutlink{H20}{H32}{4}
    \mutlink{H20}{m6}{2}
    \mutlink{m6}{m9}{6}
    \mutlink{H31}{m6}{2}
    \mutlink{H77}{m9}{2}
    \mutlink{H61}{m9}{1}
    \mutlink{H61}{H60}{4}
    \mutlink{m9}{m15}{3}
    \mutlink{m9}{m11}{4}
    \mutlink{m6}{m10}{1}
    \mutlink{H29}{H26}{2}
    \mutlink{H26}{m12}{2}
    \mutlink{H16}{m12}{1}
    \mutlink{H17}{m13}{2}
    \mutlink{m12}{m13}{2}
    \mutlink{m13}{m10}{0}
    \mutlink{m10}{m11}{6}
    \mutlink{m11}{H63}{1}
    \mutlink{m15}{m16}{1}
    \mutlink{m15}{m14}{1}
    \mutlink{m16}{m14}{2}
    \mutlink{m14}{H66}{2}
    \mutlink{H66}{H64}{8}
    \mutlink{H25}{H27}{1}
    \mutlink{H27}{H30}{2}
    \mutlink{H30}{m4}{1}
    \mutlink{H85}{H30}{2}
    \mutlink{H86}{H85}{2}
    \mutlink{m4}{m5}{2}
    \mutlink{H83}{m5}{3}
    \mutlink{m5}{H33}{1}
    \mutlink{m4}{H34}{2}
    \mutlink{H34}{H36}{1}
    \mutlink{H36}{H87}{8}
    \mutlink{m10}{H33}{2}
    \mutlink{H33}{H49}{6}
    \mutlink{m11}{H67}{5}
    \mutlink{m16}{m20}{7}
    \mutlink{m20}{m22}{1}
    \mutlink{m20}{m23}{0}
    \mutlink{m23}{m21}{0}
    \mutlink{m22}{m21}{1}
    \mutlink{m22}{H65}{1}
    \mutlink{H68}{H65}{1}
    \mutlink{H64}{H65}{1}
    \mutlink{H65}{H62}{0}
    \mutlink{m23}{H88}{0}
    \mutlink{m21}{H38}{1}
    \mutlink{m20}{m24}{3}
    \mutlink{m24}{H45}{2}
    \mutlink{m24}{m25}{4}
    \mutlink{m25}{H39}{1}
    \mutlink{m25}{m27}{2}
    \mutlink{m27}{m26}{1}
    \mutlink{m27}{m28}{1}
    \mutlink{m26}{m28}{1}
    \mutlink{m26}{H46}{6}
    \mutlink{H46}{H47}{1}
    \mutlink{m28}{m29}{2}
    \mutlink{m29}{H48}{2}
    \mutlink{m29}{H78}{8}
    \mutlink{H67}{H58}{1}
    \mutlink{H57}{H58}{1}
    \mutlink{H59}{H58}{1}
    \mutlink{H69}{H58}{1}
    \mutlink{H58}{H72}{1}
    \mutlink{H58}{H80}{2}
    \mutlink{H58}{H42}{1}
    \mutlink{H58}{H70}{7}
    \mutlink{H70}{H43}{8}
    \mutlink{H80}{H79}{5}
    \mutlink{H52}{m7}{5}
    \mutlink{m7}{H49}{3}
    \mutlink{H56}{m7}{1}
    \mutlink{H50}{H49}{3}
    \mutlink{H40}{H49}{4}
    \mutlink{H74}{m2}{10}
    \mutlink{m2}{H49}{1}
    \mutlink{H76}{m2}{3}
    \mutlink{m2}{H51}{3}
    \mutlink{H51}{m8}{2}
    \mutlink{H53}{H49}{2}
    \mutlink{H49}{H73}{0}
    \mutlink{H54}{H73}{1}
    \mutlink{m8}{H73}{2}
    \mutlink{m8}{H75}{3}
    \mutlink{H73}{H81}{2}
    \mutlink{H73}{H71}{2}
    \mutlink{H73}{H82}{4}
    \mutlink{H55}{m19}{3}
    \mutlink{m19}{m17}{1}
    \mutlink{m18}{m17}{1}
    \mutlink{m19}{m18}{1}
    \mutlink{H62}{m17}{1}
    \mutlink{m18}{H44}{3}
    \mutlink{m18}{m3}{2}
    \mutlink{m3}{H37}{2}
    \mutlink{m3}{H23}{1}
    \mutlink{m3}{H41}{4}
    \mutlink{m3}{H24}{2}
    \mutlink{H41}{H1}{2}
    \mutlink{H24}{H21}{2}
    \mutlink{H24}{H22}{1}
    \mutlink{H1}{H35}{1}
    \mutlink{H1}{H28}{1}
%
    % Step counts on links
    \node[mlab] (k3) at (546,339) {3};
    \node[mlab] (k4a) at (543,401) {4};
    \node[mlab] (k4b) at (487,446) {4};
    \node[mlab] (k9) at (516,450) {9};
    \node[mlab] (k4c) at (543,462) {4};
    \node[mlab] (k6) at (574,451) {6};
    \node[mlab] (k4d) at (599,594) {4};
    \node[mlab] (k17) at (622,566) {17};
    \node[mlab] (k15) at (621,626) {15};
    \node[mlab] (k8a) at (593,648) {8};
    \node[mlab] (k18) at (625,689) {18};
    \node[mlab] (k11) at (708,663) {11};
    \node[mlab] (k8b) at (661,693) {8};
    \node[mlab] (k7) at (702,709) {7};
    \node[mlab] (k14) at (642,762) {14};
%
    % Legend
    \node[draw=black!70, rounded corners=6pt, line width=0.7pt, minimum width=233pt, minimum height=179pt, anchor=north west, inner sep=0pt] (legbox) at (522,902) {};
    \node[legtxt] (lg1) at (530,914) {\textbf{MLST dataset (\textit{arf} / \textit{H-anti} / \textit{ole9})}};
    \node[legtxt] (lg2) at (530,927) {No. of sequences = 179 (1.237 characters)};
    \node[legtxt] (lg3) at (530,940) {No. of haplotypes = 88 (Hd = 0.9746)};
    \node[legtxt] (lg4) at (530,956) {Legend:};
    \node[legtxt, anchor=east] (lg5) at (752,957) {Bootstrap: NJ/ML/MP};
    \node[legtxt] (lg6) at (528,970) {\hum{} Human};
    \node[legtxt] (lg7) at (528,983) {\ani{} Animal};
    \node[legtxt] (lg8) at (528,997) {\env{} Environmental};
    \node[legtxt] (lg9) at (530,1013) {Genetic groups:};
    \node[swatch=colA] (sw1) at (538.5,1028) {};
    \node[swatch=colB] (sw2) at (538.5,1043) {};
    \node[swatch=colC] (sw3) at (538.5,1057) {};
    \node[swatch=colD] (sw4) at (538.5,1072) {};
    \node[swatch=colE] (sw5) at (615.5,1028) {};
    \node[swatch=colRJ] (sw6) at (615.5,1043) {};
    \node[swatch=colBr1] (sw7) at (615.5,1057) {};
    \node[swatch=colBr3] (sw8) at (615.5,1072) {};
    \node[swatch=colN1] (sw9) at (693,1028) {};
    \node[swatch=colN2] (sw10) at (693,1043) {};
    \node[swatch=colII] (sw11) at (693,1057) {};
    \node[swatch=colL] (sw12) at (693,1072) {};
    \node[legtxt, right=3pt of sw1] (t1) {LAm A};
    \node[legtxt, right=3pt of sw2] (t2) {LAm B};
    \node[legtxt, right=3pt of sw3] (t3) {LAm C};
    \node[legtxt, right=3pt of sw4] (t4) {LAm D};
    \node[legtxt, right=3pt of sw5] (t5) {LAm E};
    \node[legtxt, right=3pt of sw6] (t6) {RJ};
    \node[legtxt, right=3pt of sw7] (t7) {BrHC1};
    \node[legtxt, right=3pt of sw8] (t8) {BrHC3};
    \node[legtxt, right=3pt of sw9] (t9) {NAm 1};
    \node[legtxt, right=3pt of sw10] (t10) {NAm 2};
    \node[legtxt, right=3pt of sw11] (t11) {Group II};
    \node[legtxt, right=3pt of sw12] (t12) {Lineages};
%
\end{tikzpicture}
\end{document}
